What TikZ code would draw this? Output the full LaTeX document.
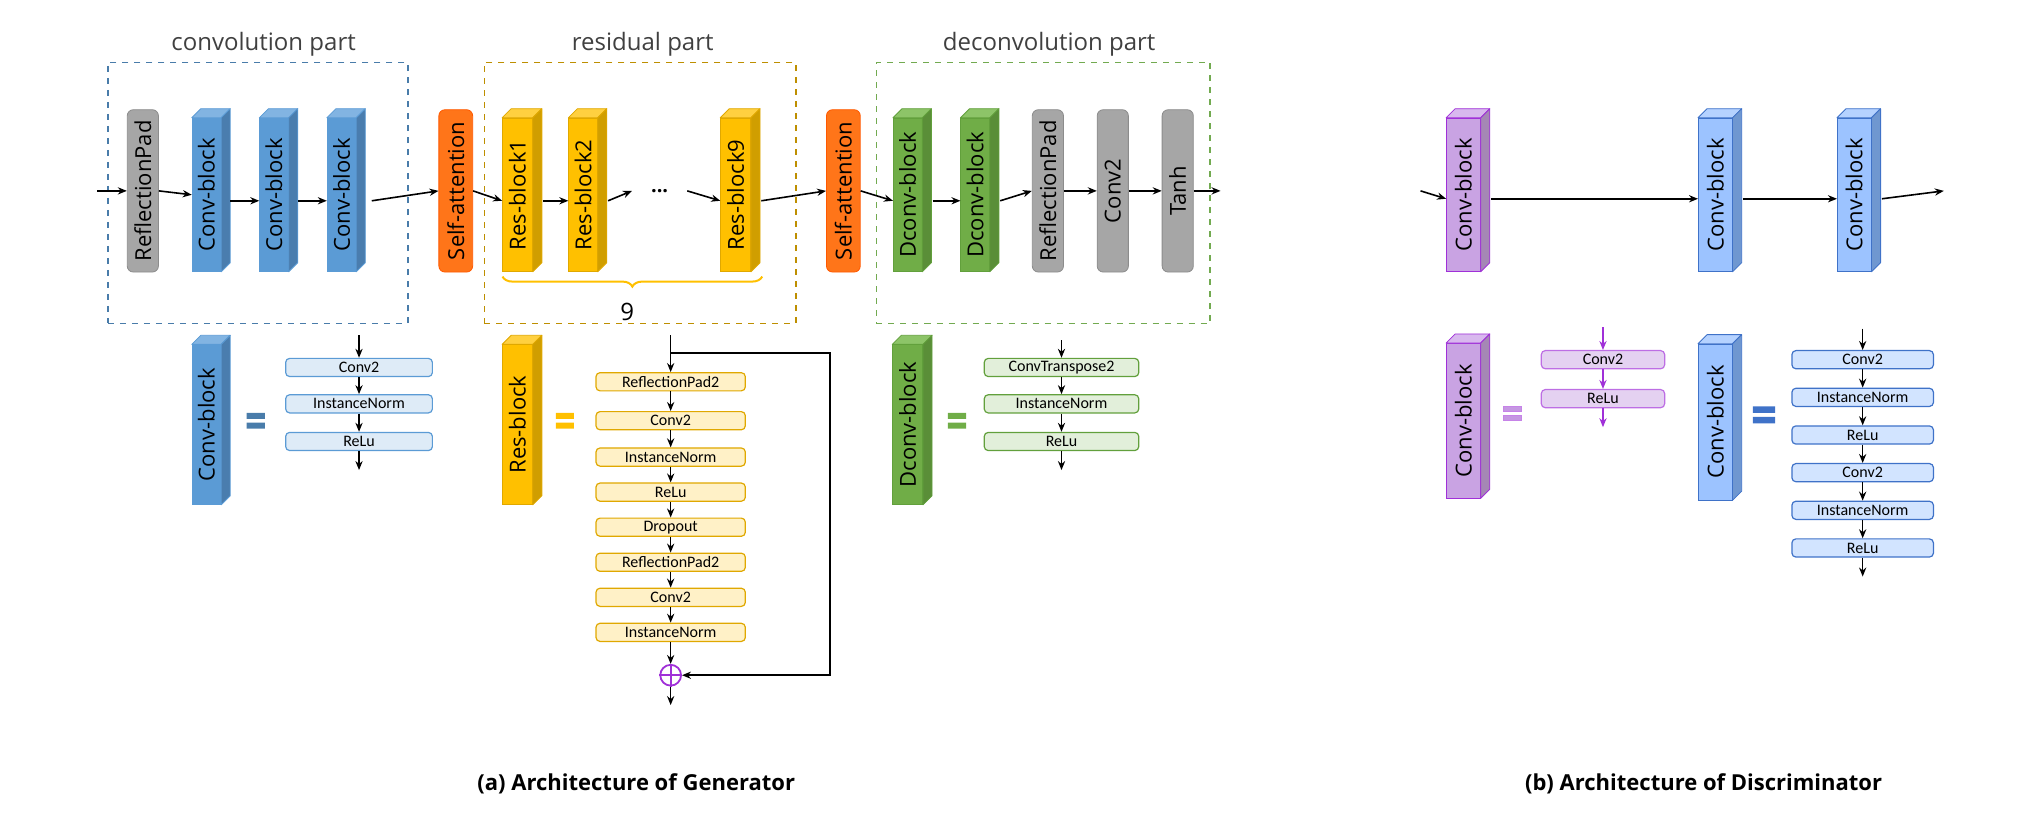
\documentclass[tikz,border=0pt]{standalone}
\usepackage{fontspec}
\setmainfont{Open Sans}
\newfontfamily\smallf{Carlito}
\usetikzlibrary{arrows.meta,calc,decorations.pathreplacing}
\definecolor{bF}{HTML}{5B9BD5}\definecolor{bT}{HTML}{82B4E2}\definecolor{bS}{HTML}{4A7DAE}\definecolor{bD}{HTML}{5B9BD5}
\definecolor{yF}{HTML}{FFC000}\definecolor{yT}{HTML}{FFD040}\definecolor{yS}{HTML}{D09E00}\definecolor{yD}{HTML}{E0A800}
\definecolor{gF}{HTML}{70AD47}\definecolor{gT}{HTML}{8DC468}\definecolor{gS}{HTML}{5A8E38}\definecolor{gD}{HTML}{62A03C}
\definecolor{pF}{HTML}{C9A3E3}\definecolor{pT}{HTML}{D8B8EE}\definecolor{pS}{HTML}{A587B5}\definecolor{pD}{HTML}{A030D8}
\definecolor{lF}{HTML}{9CC3FF}\definecolor{lT}{HTML}{B5D2FF}\definecolor{lS}{HTML}{6F97D0}\definecolor{lD}{HTML}{3F72C8}
\def\u{0.649pt}
\newcommand\blk[9]{%
  \node[draw=#8,fill=#5,minimum width=#3*\u,minimum height=#4*\u,inner sep=0pt] (#1) at (#2) {};
  \fill[#6,draw=#8,line join=round] (#1.north west) -- ++(7,-7) -- ($(#1.north east)+(7,-7)$) -- (#1.north east) -- cycle;
  \fill[#7,draw=#8,line join=round] (#1.north east) -- ++(7,-7) -- ($(#1.south east)+(7,-7)$) -- (#1.south east) -- cycle;
  \node[rotate=90,font=\fontsize{11}{12}\selectfont] (#1t) at (#1) {#9};}
\tikzset{
  arr/.style={-{Stealth[length=4.5pt,width=3.6pt]},line width=0.8pt},
  rbox/.style={rounded corners=3pt,minimum width=24*\u,minimum height=125*\u,inner sep=0pt},
  sbox/.style={rounded corners=2pt,minimum height=14*\u,inner sep=0pt,font=\smallf\fontsize{8}{9}\selectfont,line width=0.6pt},
  part/.style={dashed,line width=0.8pt,minimum height=201*\u,inner sep=0pt},
  ttl/.style={font=\fontsize{12}{14}\selectfont,text=black!75}
}
\begin{document}
\begin{tikzpicture}[x=0.649pt,y=-0.649pt]
\useasboundingbox (0,0) rectangle (1568,632);
% dashed parts
\node[part,draw=bD!80!black,minimum width=231*\u] (cp) at (198.5,148.5) {};
\node[part,draw=yD!85!black,minimum width=240*\u] (rp) at (493,148.5) {};
\node[part,draw=gD!90!white,minimum width=257*\u] (dp) at (803.5,148.5) {};
\node[ttl,anchor=south] (cpt) at (203,49) {convolution part};
\node[ttl,anchor=south] (rpt) at (495,49) {residual part};
\node[ttl,anchor=south] (dpt) at (808,49) {deconvolution part};
% main row generator
\coordinate (in) at (75,147);
\node[rbox,fill=black!35,draw=black!45] (rp1) at (110,147) {};
\node[rotate=90,font=\fontsize{11}{12}\selectfont] (rp1t) at (rp1) {ReflectionPad};
\blk{c1}{159,150}{22}{118}{bF}{bT}{bS}{bD}{Conv-block}
\blk{c2}{211,150}{22}{118}{bF}{bT}{bS}{bD}{Conv-block}
\blk{c3}{263,150}{22}{118}{bF}{bT}{bS}{bD}{Conv-block}
\node[rbox,fill=orange!80!red!90,draw=orange!70!red,minimum width=26*\u] (sa1) at (351,147) {};
\node[rotate=90,font=\fontsize{11}{12}\selectfont] (sa1t) at (sa1) {Self-attention};
\blk{r1}{398.5,150}{23}{118}{yF}{yT}{yS}{yD}{Res-block1}
\blk{r2}{449,150}{22}{118}{yF}{yT}{yS}{yD}{Res-block2}
\node (dots) at (508,147) {\textbf{...}};
\blk{r9}{566.5,150}{23}{118}{yF}{yT}{yS}{yD}{Res-block9}
\node[rbox,fill=orange!80!red!90,draw=orange!70!red,minimum width=26*\u] (sa2) at (649.5,147) {};
\node[rotate=90,font=\fontsize{11}{12}\selectfont] (sa2t) at (sa2) {Self-attention};
\blk{d1}{699,150}{22}{118}{gF}{gT}{gS}{gD}{Dconv-block}
\blk{d2}{751,150}{22}{118}{gF}{gT}{gS}{gD}{Dconv-block}
\node[rbox,fill=black!35,draw=black!45] (rp2) at (807,147) {};
\node[rotate=90,font=\fontsize{11}{12}\selectfont] (rp2t) at (rp2) {ReflectionPad};
\node[rbox,fill=black!35,draw=black!45] (cv) at (857,147) {};
\node[rotate=90,font=\fontsize{11}{12}\selectfont] (cvt) at (cv) {Conv2};
\node[rbox,fill=black!35,draw=black!45] (th) at (907,147) {};
\node[rotate=90,font=\fontsize{11}{12}\selectfont] (tht) at (th) {Tanh};
\coordinate (out) at (940,147);
\draw[arr] (in) -- (rp1.west);
\draw[arr] (rp1.east) -- (c1.west);
\draw[arr] ([xshift=7*\u,yshift=-3pt]c1.east) -- ([yshift=-3pt]c2.west);
\draw[arr] ([xshift=7*\u,yshift=-3pt]c2.east) -- ([yshift=-3pt]c3.west);
\draw[arr] ([xshift=12*\u,yshift=-3pt]c3.east) -- (sa1.west);
\draw[arr] (sa1.east) -- ([yshift=-3pt]r1.west);
\draw[arr] ([xshift=8*\u,yshift=-3pt]r1.east) -- ([yshift=-3pt]r2.west);
\draw[arr] ([xshift=8*\u,yshift=-3pt]r2.east) -- ([xshift=-6pt]dots.west);
\draw[arr] ([xshift=6pt]dots.east) -- ([yshift=-3pt]r9.west);
\draw[arr] ([xshift=8*\u,yshift=-3pt]r9.east) -- (sa2.west);
\draw[arr] (sa2.east) -- ([yshift=-3pt]d1.west);
\draw[arr] ([xshift=8*\u,yshift=-3pt]d1.east) -- ([yshift=-3pt]d2.west);
\draw[arr] ([xshift=8*\u,yshift=-3pt]d2.east) -- (rp2.west);
\draw[arr] (rp2.east) -- (cv.west);
\draw[arr] (cv.east) -- (th.west);
\draw[arr] (th.east) -- (out);
\coordinate (bra) at (387,213); \coordinate (brb) at (587,213);
\draw[yF,line width=1pt,decorate,decoration={brace,mirror,amplitude=5pt}] (bra) -- (brb);
\node[font=\fontsize{12}{14}\selectfont] (nine) at (483,240) {9};
% lower: conv-block
\blk{cb}{159,327}{22}{123}{bF}{bT}{bS}{bD}{Conv-block}
\fill[bD!80!black] (190,318) rectangle (204,322.5) (190,325.5) rectangle (204,330);
\node[sbox,draw=bD,fill=bF!20,minimum width=113*\u] (k1) at (276.5,283) {Conv2};
\node[sbox,draw=bD,fill=bF!20,minimum width=113*\u] (k2) at (276.5,311) {InstanceNorm};
\node[sbox,draw=bD,fill=bF!20,minimum width=113*\u] (k3) at (276.5,340) {ReLu};
\coordinate (kin) at (276.5,258); \coordinate (kout) at (276.5,362);
\draw[arr] (kin) -- (k1); \draw[arr] (k1) -- (k2); \draw[arr] (k2) -- (k3); \draw[arr] (k3) -- (kout);
% lower: res-block
\blk{rb}{398.5,327}{23}{123}{yF}{yT}{yS}{yD}{Res-block}
\fill[yF] (428,318) rectangle (442,322.5) (428,325.5) rectangle (442,330);
\foreach \n/\t/\y in {q1/ReflectionPad2/294,q2/Conv2/324,q3/InstanceNorm/352,q4/ReLu/379,q5/Dropout/406,q6/ReflectionPad2/433,q7/Conv2/460,q8/InstanceNorm/487}
  \node[sbox,draw=yD,fill=yF!22,minimum width=115*\u] (\n) at (516.5,\y) {\t};
\coordinate (qin) at (516.5,258);
\node[circle,draw=pD,line width=0.9pt,minimum size=16*\u,inner sep=0pt] (plus) at (516.5,520) {};
\draw[pD,line width=0.9pt] (plus.north) -- (plus.south) (plus.west) -- (plus.east);
\coordinate (qout) at (516.5,543);
\coordinate (sk) at (516.5,272);
\draw[arr] (qin) -- (q1);
\draw[arr] (q1) -- (q2); \draw[arr] (q2) -- (q3); \draw[arr] (q3) -- (q4); \draw[arr] (q4) -- (q5);
\draw[arr] (q5) -- (q6); \draw[arr] (q6) -- (q7); \draw[arr] (q7) -- (q8); \draw[arr] (q8) -- (plus);
\draw[arr] (plus) -- (qout);
\draw[arr] (sk) -- (639,272) |- (plus.east);
% lower: dconv-block
\blk{db}{699,327}{23}{123}{gF}{gT}{gS}{gD}{Dconv-block}
\fill[gF] (730,318) rectangle (744,322.5) (730,325.5) rectangle (744,330);
\node[sbox,draw=gD,fill=gF!20,minimum width=119*\u] (e1) at (817.5,283) {ConvTranspose2};
\node[sbox,draw=gD,fill=gF!20,minimum width=119*\u] (e2) at (817.5,311) {InstanceNorm};
\node[sbox,draw=gD,fill=gF!20,minimum width=119*\u] (e3) at (817.5,340) {ReLu};
\coordinate (ein) at (817.5,262); \coordinate (eout) at (817.5,362);
\draw[arr] (ein) -- (e1); \draw[arr] (e1) -- (e2); \draw[arr] (e2) -- (e3); \draw[arr] (e3) -- (eout);
% discriminator
\coordinate (din) at (1094,147);
\blk{p1}{1127,150}{26}{118}{pF}{pT}{pS}{pD}{Conv-block}
\blk{l1}{1321,150}{26}{118}{lF}{lT}{lS}{lD}{Conv-block}
\blk{l2}{1428,150}{26}{118}{lF}{lT}{lS}{lD}{Conv-block}
\coordinate (dout) at (1497,147);
\draw[arr] (din) -- ([yshift=-2pt]p1.west);
\draw[arr] ([xshift=8*\u,yshift=-2pt]p1.east) -- ([yshift=-2pt]l1.west);
\draw[arr] ([xshift=8*\u,yshift=-2pt]l1.east) -- ([yshift=-2pt]l2.west);
\draw[arr] ([xshift=8*\u,yshift=-2pt]l2.east) -- (dout);
\blk{pb}{1127,324}{26}{119}{pF}{pT}{pS}{pD}{Conv-block}
\fill[pF!90!pD,draw=pD!60] (1158,313) rectangle (1172,317) (1158,320) rectangle (1172,324);
\node[sbox,draw=pD!70,fill=pF!50,minimum width=95*\u] (m1) at (1234.5,277) {Conv2};
\node[sbox,draw=pD!70,fill=pF!50,minimum width=95*\u] (m2) at (1234.5,307) {ReLu};
\coordinate (min) at (1234.5,252); \coordinate (mout) at (1234.5,329);
\draw[arr,pD] (min) -- (m1); \draw[arr,pD] (m1) -- (m2); \draw[arr,pD] (m2) -- (mout);
\blk{lb}{1321,325}{26}{120}{lF}{lT}{lS}{lD}{Conv-block}
\fill[lD] (1350,313) rectangle (1367,318) (1350,321) rectangle (1367,326);
\foreach \n/\t/\y in {n1/Conv2/277,n2/InstanceNorm/306,n3/ReLu/335,n4/Conv2/364,n5/InstanceNorm/393,n6/ReLu/422}
  \node[sbox,draw=lD,fill=lF!45,minimum width=109*\u] (\n) at (1434.5,\y) {\t};
\coordinate (nin) at (1434.5,253); \coordinate (nout) at (1434.5,444);
\draw[arr] (nin) -- (n1); \draw[arr] (n1) -- (n2); \draw[arr] (n2) -- (n3); \draw[arr] (n3) -- (n4); \draw[arr] (n4) -- (n5); \draw[arr] (n5) -- (n6); \draw[arr] (n6) -- (nout);
% captions
\node[font=\bfseries\fontsize{11}{13}\selectfont] (capa) at (490,604) {(a) Architecture of Generator};
\node[font=\bfseries\fontsize{11}{13}\selectfont] (capb) at (1312,604) {(b) Architecture of Discriminator};
\end{tikzpicture}
\end{document}
